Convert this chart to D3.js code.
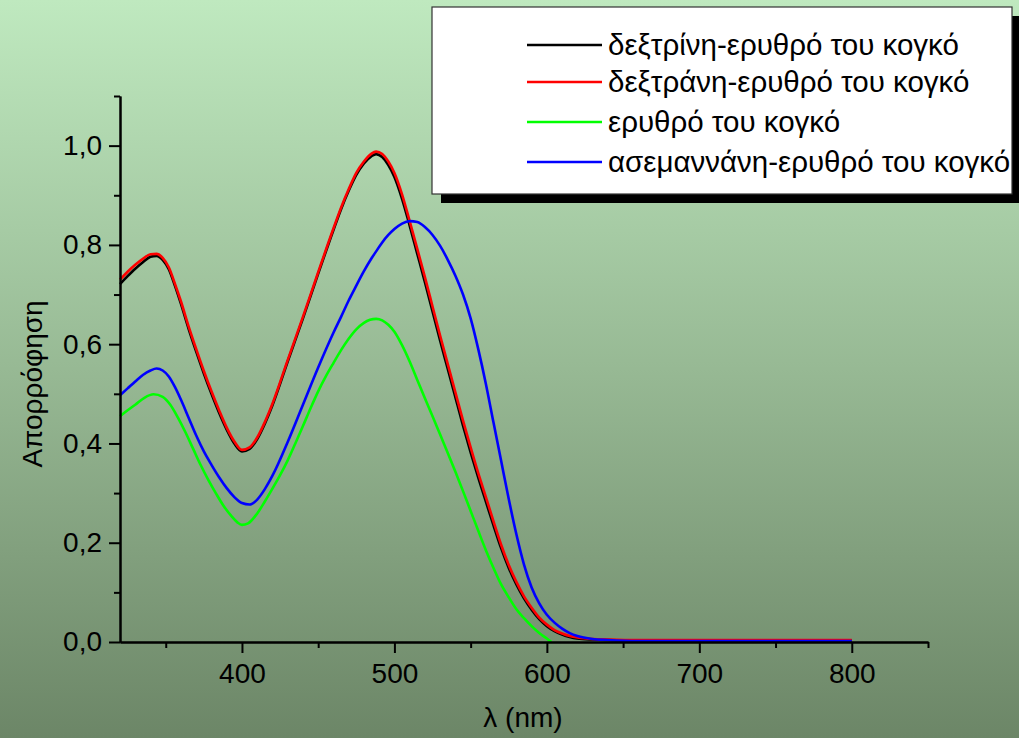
<!DOCTYPE html>
<html>
<head>
<meta charset="utf-8">
<script src="https://cdn.jsdelivr.net/npm/d3@7"></script>
<style>
  html, body { margin: 0; padding: 0; overflow: hidden; }
  svg { display: block; }
  text { font-family: "Liberation Sans", Arial, sans-serif; fill: #000; }
</style>
</head>
<body>
<svg id="chart" width="1019" height="738"></svg>
<script>
// Wavelength grid (nm) shared by the dextrin, dextran and asemannan spectra
const nm = [320, 325, 330, 335, 340, 344, 348, 352, 356, 360, 365, 370, 375, 380, 385, 390, 395, 400,
  405, 410, 415, 420, 430, 440, 450, 460, 465, 470, 475, 480, 485, 488, 492, 496, 500, 505, 510, 515,
  520, 525, 530, 535, 540, 545, 550, 555, 560, 565, 570, 575, 580, 585, 590, 595, 600, 605, 610, 615,
  620, 630, 640, 660, 700, 750, 800];

const dextrinAbs = [0.721, 0.737, 0.752, 0.765, 0.776, 0.778, 0.770, 0.751, 0.718, 0.681, 0.631, 0.585,
  0.541, 0.500, 0.462, 0.428, 0.400, 0.384, 0.389, 0.409, 0.440, 0.477, 0.565, 0.652, 0.742, 0.830,
  0.872, 0.909, 0.941, 0.964, 0.979, 0.983, 0.977, 0.961, 0.937, 0.893, 0.839, 0.782, 0.725, 0.666,
  0.607, 0.550, 0.493, 0.436, 0.382, 0.331, 0.283, 0.235, 0.189, 0.149, 0.116, 0.088, 0.065, 0.046,
  0.032, 0.022, 0.015, 0.010, 0.007, 0.005, 0.004, 0.003, 0.003, 0.003, 0.003];

const dextranAbs = [0.730, 0.746, 0.760, 0.772, 0.781, 0.782, 0.774, 0.755, 0.722, 0.686, 0.636, 0.590,
  0.546, 0.505, 0.467, 0.432, 0.404, 0.387, 0.392, 0.412, 0.443, 0.480, 0.568, 0.655, 0.745, 0.833,
  0.875, 0.912, 0.945, 0.968, 0.984, 0.988, 0.983, 0.968, 0.945, 0.902, 0.848, 0.792, 0.735, 0.676,
  0.617, 0.560, 0.503, 0.446, 0.392, 0.340, 0.292, 0.243, 0.196, 0.155, 0.121, 0.092, 0.069, 0.049,
  0.035, 0.024, 0.017, 0.012, 0.009, 0.006, 0.005, 0.004, 0.004, 0.004, 0.004];

const asemannanAbs = [0.497, 0.511, 0.525, 0.538, 0.547, 0.551, 0.547, 0.535, 0.514, 0.488, 0.452, 0.416,
  0.384, 0.357, 0.332, 0.310, 0.292, 0.280, 0.277, 0.287, 0.308, 0.335, 0.403, 0.478, 0.553, 0.623,
  0.655, 0.688, 0.718, 0.747, 0.773, 0.787, 0.805, 0.820, 0.832, 0.843, 0.848, 0.846, 0.836, 0.820,
  0.798, 0.770, 0.738, 0.700, 0.652, 0.590, 0.520, 0.442, 0.365, 0.288, 0.217, 0.156, 0.110, 0.078,
  0.055, 0.039, 0.027, 0.018, 0.012, 0.006, 0.004, 0.002, 0.002, 0.002, 0.002];

// Congo red alone is measured only up to ~603 nm
const congoNm = [320, 325, 330, 336, 342, 348, 353, 358, 363, 368, 373, 378, 383, 388, 393, 397, 400,
  404, 410, 415, 420, 425, 430, 435, 440, 445, 450, 455, 460, 465, 470, 475, 480, 484, 488, 492, 496,
  500, 505, 510, 515, 520, 525, 530, 535, 540, 545, 550, 555, 560, 565, 570, 575, 580, 585, 590, 595,
  600, 603];
const congoAbs = [0.455, 0.467, 0.478, 0.492, 0.499, 0.494, 0.478, 0.452, 0.422, 0.389, 0.356, 0.326,
  0.299, 0.274, 0.254, 0.241, 0.236, 0.239, 0.259, 0.283, 0.309, 0.336, 0.366, 0.400, 0.435, 0.471,
  0.505, 0.535, 0.562, 0.588, 0.611, 0.630, 0.643, 0.649, 0.651, 0.648, 0.639, 0.625, 0.598, 0.565,
  0.528, 0.491, 0.455, 0.418, 0.381, 0.343, 0.304, 0.264, 0.224, 0.185, 0.149, 0.116, 0.090, 0.066,
  0.048, 0.032, 0.018, 0.007, 0.000];

const seriesNames = ["δεξτρίνη-ερυθρό του κογκό", "δεξτράνη-ερυθρό του κογκό",
  "ερυθρό του κογκό", "ασεμαννάνη-ερυθρό του κογκό"];
const seriesColors = ["#000000", "#ff0000", "#00ff00", "#0000ff"];

const xMajorTicks = [400, 500, 600, 700, 800];
const xMinorTicks = [350, 450, 550, 650, 750, 850];
const yMajorTicks = [0.0, 0.2, 0.4, 0.6, 0.8, 1.0];
const yMinorTicks = [0.1, 0.3, 0.5, 0.7, 0.9, 1.1];

const xLabel = "λ (nm)";
const yLabel = "Απορρόφηση";

// ---- layout ----
const W = 1019, H = 738;
const plot = { left: 120, right: 928, top: 96, bottom: 642 };
const FONT = 28;
const LEGEND_FONT = 29.5;

const svg = d3.select("#chart");

// Background gradient
const defs = svg.append("defs");
const grad = defs.append("linearGradient").attr("id", "bg")
  .attr("x1", 0).attr("y1", 0).attr("x2", 0).attr("y2", 1);
grad.append("stop").attr("offset", "0%").attr("stop-color", "#bfe9bf");
grad.append("stop").attr("offset", "50%").attr("stop-color", "#97b994");
grad.append("stop").attr("offset", "100%").attr("stop-color", "#6c8667");
svg.append("rect").attr("width", W).attr("height", H).attr("fill", "url(#bg)");

const x = d3.scaleLinear().domain([320, 850]).range([plot.left, plot.right]);
const y = d3.scaleLinear().domain([0, 1.1]).range([plot.bottom, plot.top]);

const fmt = v => d3.format(".1f")(v).replace(".", ",");

// Curves
const series = [
  { xs: nm, ys: dextrinAbs },
  { xs: nm, ys: dextranAbs },
  { xs: congoNm, ys: congoAbs },
  { xs: nm, ys: asemannanAbs }
];
const line = d3.line().x(d => x(d[0])).y(d => y(d[1])).curve(d3.curveMonotoneX);
const curves = svg.append("g");
series.forEach((s, i) => {
  curves.append("path")
    .datum(s.xs.map((v, k) => [v, s.ys[k]]))
    .attr("fill", "none")
    .attr("stroke", seriesColors[i])
    .attr("stroke-width", 2.6)
    .attr("stroke-linejoin", "round")
    .attr("d", line);
});

// Axes
function styleAxis(g) {
  g.selectAll("path, line").attr("stroke", "#000").attr("stroke-width", 2);
  g.selectAll("text").style("font-size", FONT + "px").attr("fill", "#000")
    .style("font-family", "'Liberation Sans', Arial, sans-serif");
}

const xAxisMinor = d3.axisBottom(x).tickValues(xMinorTicks).tickSize(6).tickFormat("").tickSizeOuter(0);
const xAxisMajor = d3.axisBottom(x).tickValues(xMajorTicks).tickSize(11).tickPadding(10)
  .tickFormat(d3.format("d")).tickSizeOuter(0);
svg.append("g").attr("transform", `translate(0,${plot.bottom})`).call(xAxisMinor).call(styleAxis);
svg.append("g").attr("transform", `translate(0,${plot.bottom})`).call(xAxisMajor).call(styleAxis);

const yAxisMinor = d3.axisLeft(y).tickValues(yMinorTicks).tickSize(6).tickFormat("").tickSizeOuter(0);
const yAxisMajor = d3.axisLeft(y).tickValues(yMajorTicks).tickSize(11).tickPadding(7)
  .tickFormat(fmt).tickSizeOuter(0);
svg.append("g").attr("transform", `translate(${plot.left},0)`).call(yAxisMinor).call(styleAxis);
svg.append("g").attr("transform", `translate(${plot.left},0)`).call(yAxisMajor).call(styleAxis);

// Axis titles
svg.append("text")
  .attr("x", 523).attr("y", 727)
  .attr("text-anchor", "middle")
  .style("font-size", FONT + "px")
  .text(xLabel);
svg.append("text")
  .attr("transform", "translate(42,384) rotate(-90)")
  .attr("text-anchor", "middle")
  .style("font-size", FONT + "px")
  .text(yLabel);

// Legend with drop shadow
const legend = { x: 432, y: 7, w: 580, h: 187, shadow: 9 };
const lg = svg.append("g");
lg.append("rect")
  .attr("x", legend.x + legend.shadow).attr("y", legend.y + legend.shadow)
  .attr("width", legend.w).attr("height", legend.h)
  .attr("fill", "#000");
lg.append("rect")
  .attr("x", legend.x).attr("y", legend.y)
  .attr("width", legend.w).attr("height", legend.h)
  .attr("fill", "#fff").attr("stroke", "#333").attr("stroke-width", 1.2);

const legendRows = [45, 82, 122, 162];
seriesNames.forEach((name, i) => {
  const ry = legendRows[i];
  lg.append("line")
    .attr("x1", 527).attr("x2", 602).attr("y1", ry).attr("y2", ry)
    .attr("stroke", seriesColors[i]).attr("stroke-width", 2.6);
  lg.append("text")
    .attr("x", 608).attr("y", ry)
    .attr("dy", "0.35em")
    .style("font-size", LEGEND_FONT + "px")
    .text(name);
});
</script>
</body>
</html>
